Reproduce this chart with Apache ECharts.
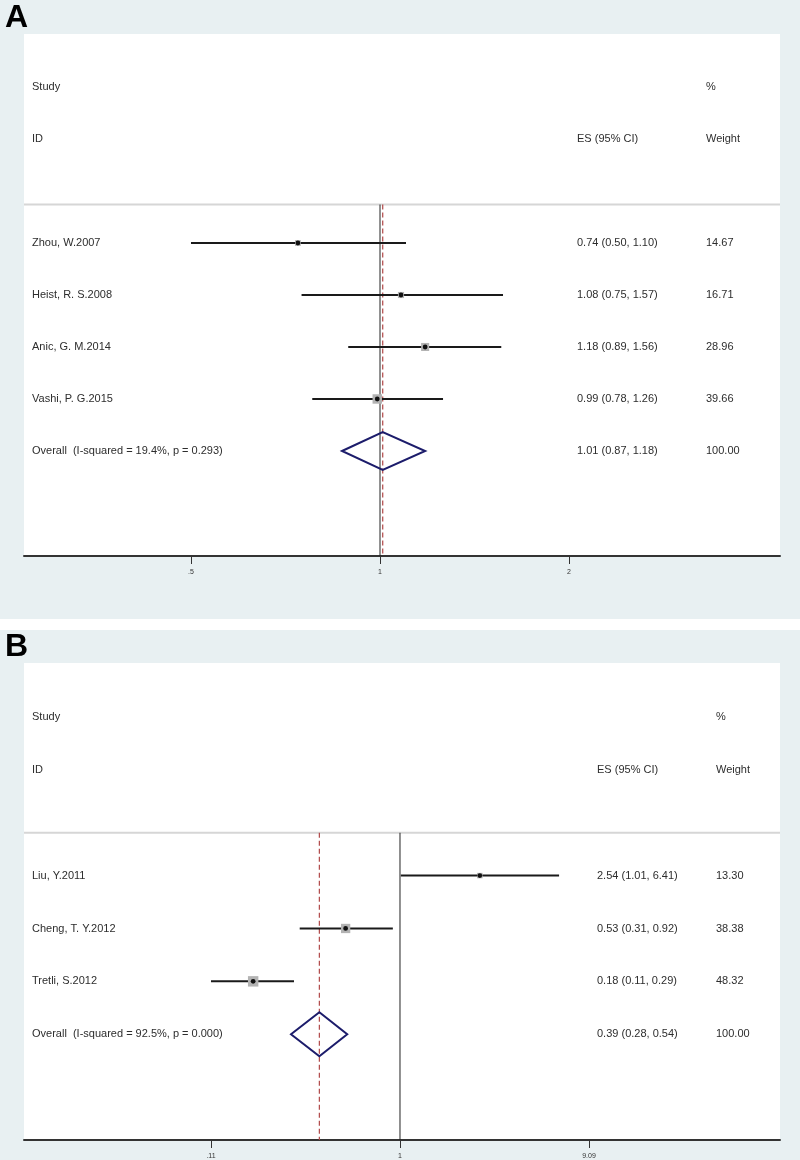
<!DOCTYPE html>
<html><head><meta charset="utf-8">
<script src="https://cdn.jsdelivr.net/npm/echarts@6/dist/echarts.min.js"></script>
<style>html,body{margin:0;padding:0;background:#fff}#c{width:800px;height:1160px}</style>
</head><body><div id="c"></div>
<script>
// ---------- Panel A data ----------
const studiesA = ["Zhou, W.2007", "Heist, R. S.2008", "Anic, G. M.2014", "Vashi, P. G.2015"];
const esA = [0.74, 1.08, 1.18, 0.99];
const loA = [0.50, 0.75, 0.89, 0.78];
const hiA = [1.10, 1.57, 1.56, 1.26];
const weightA = [14.67, 16.71, 28.96, 39.66];
const overallLabelA = "Overall  (I-squared = 19.4%, p = 0.293)";
const overallA = [1.01, 0.87, 1.18]; // es, lo, hi
const ticksA = [0.5, 1, 2];
const tickLabelsA = [".5", "1", "2"];

// ---------- Panel B data ----------
const studiesB = ["Liu, Y.2011", "Cheng, T. Y.2012", "Tretli, S.2012"];
const esB = [2.54, 0.53, 0.18];
const loB = [1.01, 0.31, 0.11];
const hiB = [6.41, 0.92, 0.29];
const weightB = [13.30, 38.38, 48.32];
const overallLabelB = "Overall  (I-squared = 92.5%, p = 0.000)";
const overallB = [0.39, 0.28, 0.54];
const ticksB = [0.11, 1, 9.09];
const tickLabelsB = [".11", "1", "9.09"];

const headerLeft = ["Study", "ID"];
const headerES = "ES (95% CI)";
const headerW = ["%", "Weight"];

const FONT = '"Liberation Sans", Arial, Helvetica, sans-serif';
const TXT = '#2d2d2d';

const panels = [
  {studies: studiesA, es: esA, lo: loA, hi: hiA, w: weightA, oLabel: overallLabelA, o: overallA,
   ticks: ticksA, tickLabels: tickLabelsA,
   top: 34, bottom: 556, xMin: -1.3055, xMax: 1.4668, yMin: -1.02, yMax: 9.02,
   sepRow: 2.26, esX: 577, wX: 706, dh: 19},
  {studies: studiesB, es: esB, lo: loB, hi: hiB, w: weightB, oLabel: overallLabelB, o: overallB,
   ticks: ticksB, tickLabels: tickLabelsB,
   top: 663, bottom: 1141, xMin: -4.391, xMax: 4.438, yMin: -1.02, yMax: 8.0,
   sepRow: 2.19, esX: 597, wX: 716, dh: 22}
];
const nameX = 32;

function fmt(v) { return v.toFixed(2); }

const grids = [], xAxes = [], yAxes = [], series = [];
panels.forEach((P, i) => {
  grids.push({left: 24, right: 20, top: P.top, height: P.bottom - P.top, show: true,
    backgroundColor: '#ffffff', borderWidth: 0, containLabel: false});
  const tl = P.ticks.map(Math.log);
  xAxes.push({gridIndex: i, type: 'value', min: P.xMin, max: P.xMax, position: 'bottom',
    axisLine: {show: true, onZero: false, lineStyle: {color: '#333', width: 2}},
    axisTick: {show: true, customValues: tl, length: 8, lineStyle: {color: '#333', width: 1}},
    axisLabel: {show: true, customValues: tl, fontSize: 7, color: '#333', margin: 13, fontFamily: FONT,
      formatter: function (v) {
        let best = 0, bd = 1e9;
        tl.forEach((t, k) => { const d = Math.abs(t - v); if (d < bd) { bd = d; best = k; } });
        return P.tickLabels[best];
      }},
    splitLine: {show: false}});
  yAxes.push({gridIndex: i, type: 'value', inverse: true, min: P.yMin, max: P.yMax, show: false});

  // header + reference lines
  series.push({
    type: 'custom', xAxisIndex: i, yAxisIndex: i, silent: true, z: 1,
    data: [[0, 0]],
    renderItem: function (params, api) {
      const y0 = api.coord([0, 0])[1];
      const y1 = api.coord([0, 1])[1];
      const ys = api.coord([0, P.sepRow])[1];
      const yb = api.coord([0, P.yMax])[1];
      const xl = api.coord([P.xMin, 0])[0];
      const xr = api.coord([P.xMax, 0])[0];
      const xn = api.coord([Math.log(1), 0])[0];
      const xo = api.coord([Math.log(P.o[0]), 0])[0];
      const ts = (x, y, t) => ({type: 'text', style: {x: x, y: y, text: t, fill: TXT,
        font: '11px ' + FONT, textVerticalAlign: 'middle', textAlign: 'left'}});
      return {type: 'group', children: [
        ts(nameX, y0, headerLeft[0]), ts(nameX, y1, headerLeft[1]),
        ts(P.esX, y1, headerES), ts(P.wX, y0, headerW[0]), ts(P.wX, y1, headerW[1]),
        {type: 'line', shape: {x1: xl, y1: ys, x2: xr, y2: ys}, style: {stroke: '#d6d6d6', lineWidth: 2}},
        {type: 'line', shape: {x1: xn, y1: ys, x2: xn, y2: yb}, style: {stroke: '#222', lineWidth: 1}},
        {type: 'line', shape: {x1: xo, y1: ys, x2: xo, y2: yb}, style: {stroke: '#b04848', lineWidth: 1.2, lineDash: [5, 3]}}
      ]};
    }
  });

  // study rows + overall
  const rows = P.studies.map((s, k) => [k + 3, Math.log(P.es[k]), Math.log(P.lo[k]), Math.log(P.hi[k]), P.w[k], 0]);
  rows.push([P.studies.length + 3, Math.log(P.o[0]), Math.log(P.o[1]), Math.log(P.o[2]), 100, 1]);
  series.push({
    type: 'custom', xAxisIndex: i, yAxisIndex: i, silent: true, z: 2,
    data: rows,
    renderItem: function (params, api) {
      const k = params.dataIndex;
      const row = api.value(0);
      const y = api.coord([0, row])[1];
      const xe = api.coord([api.value(1), row])[0];
      const xl = api.coord([api.value(2), row])[0];
      const xh = api.coord([api.value(3), row])[0];
      const wt = api.value(4);
      const overall = api.value(5) === 1;
      const ts = (x, t) => ({type: 'text', style: {x: x, y: y, text: t, fill: TXT,
        font: '11px ' + FONT, textVerticalAlign: 'middle', textAlign: 'left'}});
      const es = overall ? P.o[0] : P.es[k], lo = overall ? P.o[1] : P.lo[k], hi = overall ? P.o[2] : P.hi[k];
      const ch = [
        ts(nameX, overall ? P.oLabel : P.studies[k]),
        ts(P.esX, fmt(es) + ' (' + fmt(lo) + ', ' + fmt(hi) + ')'),
        ts(P.wX, fmt(wt))
      ];
      if (overall) {
        ch.push({type: 'polygon', shape: {points: [[xl, y], [xe, y - P.dh], [xh, y], [xe, y + P.dh]]},
          style: {fill: 'none', stroke: '#1c1c6b', lineWidth: 2}});
      } else {
        const s = 1.5 * Math.sqrt(wt);
        ch.push({type: 'line', shape: {x1: xl, y1: y, x2: xh, y2: y}, style: {stroke: '#1a1a1a', lineWidth: 2}});
        ch.push({type: 'rect', shape: {x: xe - s / 2, y: y - s / 2, width: s, height: s}, style: {fill: '#b3b3b3'}});
        ch.push({type: 'circle', shape: {cx: xe, cy: y, r: 2.4}, style: {fill: '#111'}});
      }
      return {type: 'group', children: ch};
    }
  });
});

const chart = echarts.init(document.getElementById('c'), null, {renderer: 'canvas'});
chart.setOption({
  backgroundColor: '#ffffff',
  animation: false,
  graphic: [
    {type: 'rect', z: -10, shape: {x: 0, y: 0, width: 800, height: 619}, style: {fill: '#e8f0f2'}},
    {type: 'rect', z: -10, shape: {x: 0, y: 630, width: 800, height: 530}, style: {fill: '#e8f0f2'}},
    {type: 'text', left: 5, top: 2, style: {text: 'A', font: 'bold 32px ' + FONT, fill: '#000'}},
    {type: 'text', left: 5, top: 631, style: {text: 'B', font: 'bold 32px ' + FONT, fill: '#000'}}
  ],
  grid: grids, xAxis: xAxes, yAxis: yAxes, series: series
});
</script></body></html>
